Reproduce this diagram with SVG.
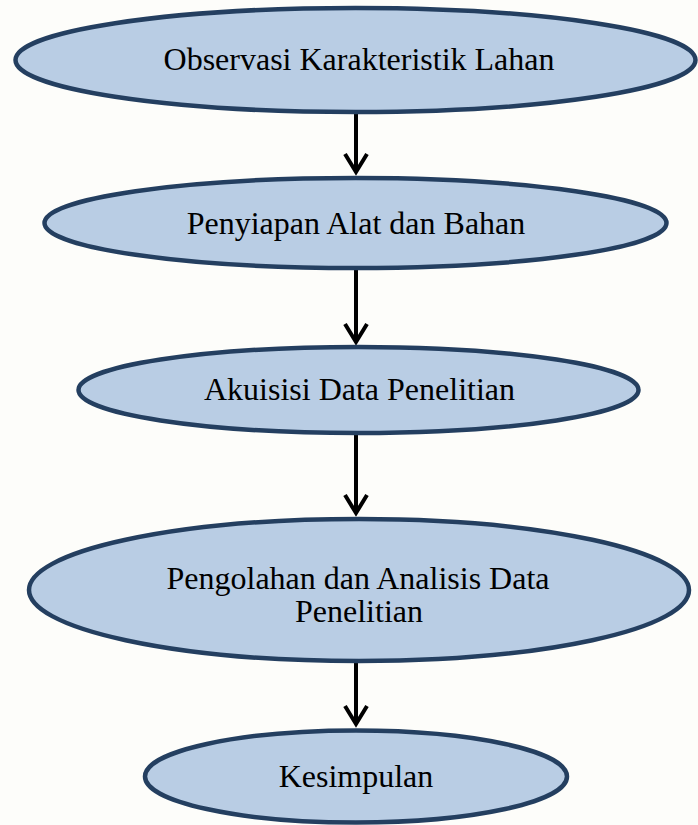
<svg xmlns="http://www.w3.org/2000/svg" width="698" height="825" viewBox="0 0 698 825">
  <style>
    .node ellipse { fill: #b9cde4; stroke: #243f60; stroke-width: 4.5; }
    .node text { font-family: "Liberation Serif", "Times New Roman", serif; font-size: 32px; fill: #000; text-anchor: middle; }
    .edge { stroke: #000; stroke-width: 4; fill: none; marker-end: url(#head); }
  </style>
  <defs>
    <marker id="head" markerUnits="userSpaceOnUse" orient="auto" refX="0" refY="0" markerWidth="30" markerHeight="30" overflow="visible">
      <path d="M-18,-11 L0,0 L-18,11" fill="none" stroke="#000" stroke-width="4" stroke-linejoin="miter"/>
    </marker>
  </defs>

  <rect width="698" height="825" fill="#fdfdfa"/>

  <!-- connectors between the steps -->
  <g id="connectors">
    <line class="edge" x1="356" y1="114" x2="356" y2="172"/>
    <line class="edge" x1="356" y1="270" x2="356" y2="342"/>
    <line class="edge" x1="356" y1="435" x2="356" y2="513"/>
    <line class="edge" x1="356" y1="663" x2="356" y2="724"/>
  </g>

  <g id="observasi" class="node">
    <ellipse cx="355.5" cy="60" rx="340" ry="52"/>
    <text x="359" y="70">Observasi Karakteristik Lahan</text>
  </g>

  <g id="penyiapan" class="node">
    <ellipse cx="355.5" cy="223" rx="311" ry="45"/>
    <text x="356" y="234">Penyiapan Alat dan Bahan</text>
  </g>

  <g id="akuisisi" class="node">
    <ellipse cx="358.5" cy="390" rx="280" ry="43"/>
    <text x="359.5" y="400">Akuisisi Data Penelitian</text>
  </g>

  <g id="pengolahan" class="node">
    <ellipse cx="359" cy="590" rx="330" ry="71"/>
    <text x="358" y="589">Pengolahan dan Analisis Data</text>
    <text x="359" y="622">Penelitian</text>
  </g>

  <g id="kesimpulan" class="node">
    <ellipse cx="356" cy="776.5" rx="211" ry="46"/>
    <text x="356" y="787">Kesimpulan</text>
  </g>
</svg>
